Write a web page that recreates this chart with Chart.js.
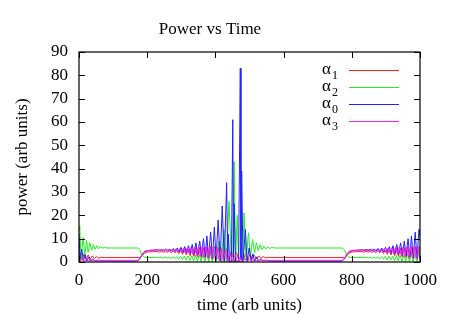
<!DOCTYPE html>
<html><head><meta charset="utf-8">
<script src="https://cdn.jsdelivr.net/npm/chart.js@4/dist/chart.umd.min.js"></script>
<style>html,body{margin:0;padding:0;background:#fff}canvas{display:block}</style>
</head><body>
<canvas id="c" width="450" height="315"></canvas>
<script>
const chartTitle = 'Power vs Time';
const xTitle = 'time (arb units)';
const yTitle = 'power (arb units)';
const xTicks = [0, 200, 400, 600, 800, 1000];
const yTicks = [0, 10, 20, 30, 40, 50, 60, 70, 80, 90];
const seriesLabels = ['α1', 'α2', 'α0', 'α3'];

// [time, power]
const alpha1 = [[0,1],[4,4],[9,0.8],[15,3.6],[21,1],[27,3],[33,1.3],[39,2.6],[45,1.5],[51,2.3],[57,1.7],[65,2],[75,1.9],
[178,1.9],[185,2.6],[192,3.8],[200,4.3],[215,4.4],
[230,4.5],[236,4.2],[242,4.6],[248,4.2],[254,4.6],[259,4.1],
[265,4.7],[271,4],[276,4.8],[282,3.9],[287,5],[293,3.6],[298,5.2],[304,3.3],[309,5.4],[315,3],
[320,5.6],[326,2.7],[331,5.8],[337,2.4],[342,6],[348,2.1],[353,6.2],[359,1.8],[364,6.4],[370,1.5],
[375,6.5],[381,1.2],[386,6.6],[392,0.9],[397,6.6],[403,0.6],[408,6.5],[414,0.4],[420,6.2],[426,0.2],
[433,5.8],[440,0.1],[447,5],[455,0],[462,4],[470,0],
[476,2.5],[482,0.2],[488,3.8],[495,0.8],[502,3.5],[508,1.2],[514,3],[520,1.4],[527,2.6],[533,1.6],[540,2.3],[547,1.7],[555,2],[565,1.9],
[778,1.9],[785,2.6],[792,3.8],[800,4.3],[815,4.4],
[830,4.5],[836,4.2],[842,4.6],[848,4.2],[854,4.6],[859,4.1],
[865,4.7],[871,4],[876,4.8],[882,3.9],[887,5],[893,3.6],[898,5.2],[904,3.3],[909,5.4],[915,3],
[920,5.6],[926,2.7],[931,5.8],[937,2.4],[942,6],[948,2.1],[953,6.2],[959,1.8],[964,6.4],[970,1.5],
[975,6.5],[981,1.2],[986,6.6],[992,0.9],[997,6.6],[1000,3]];

const alpha2 = [[0,14],[2,15.5],[6,1],[12,10.5],[17,3],[22,9.2],[27,4.2],[32,8.2],[37,5],[42,7.5],[47,5.4],[52,7],[57,5.7],[62,6.6],[68,6],[75,6.2],[82,6],
[172,6],[178,5.2],[184,3.2],[190,2.2],[197,1.9],
[230,2],[236,1.8],[242,2.1],[248,1.7],[254,2.1],[260,1.6],[265,2.1],[270,1.5],[276,2.2],[281,1.4],[287,2.3],[292,1.2],[298,2.4],[303,1],[309,2.5],[314,0.8],[320,2.6],[325,0.6],[331,2.7],[336,0.5],[342,2.9],[347,0.3],[353,3.1],[358,0.2],[364,3.4],[369,0.1],[375,3.8],[380,0],[386,4.6],[391,0],[397,6],[403,0],[410,9],[417,0],[425,14],[432,0],[440,26],[447,0],[451,0],[455,43],[459,0.2],[464,20],[468,0.1],
[480,0.3],[484,21],[490,0.5],[497,12.5],[503,2.5],[509,9.6],[515,3.8],[520,8.3],[526,4.8],[531,7.4],[537,5.3],[542,6.9],[548,5.6],[553,6.5],[559,5.8],[565,6.2],[575,6],
[772,6],[778,5.2],[784,3.2],[790,2.2],[797,1.9],
[830,2],[836,1.8],[842,2.1],[848,1.7],[854,2.1],[860,1.6],[865,2.1],[870,1.5],[876,2.2],[881,1.4],[887,2.3],[892,1.2],[898,2.4],[903,1],[909,2.5],[914,0.8],[920,2.6],[925,0.6],[931,2.7],[936,0.5],[942,2.9],[947,0.3],[953,3.1],[958,0.2],[964,3.4],[969,0.1],[975,3.8],[980,0],[986,4.6],[991,0],[997,6],[1000,2]];

const alpha0 = [[0,12],[3,1],[8,5.5],[13,0.5],[18,3.2],[23,0.4],[28,2],[34,0.4],[40,1.2],[48,0.4],[60,0.5],
[170,0.4],[178,1.2],[185,3.2],[192,4.4],[200,4.8],[210,5],[220,5.1],
[230,5.3],[236,4.9],[242,5.4],[248,4.8],[254,5.5],[260,4.7],[266,5.6],[271,4.6],[277,5.8],[282,4.5],[288,6],[293,4.3],[299,6.3],[304,4.1],[310,6.6],[315,3.9],[321,7],[326,3.6],[332,7.5],[337,3.3],[343,8.2],[348,3],[354,9],[359,2.6],[365,10],[370,2.2],[375,11.2],[380,1.8],[386,12.8],[391,1.4],[397,15],[402,1],[408,18],[414,0.6],[420,24],[426,0.3],[433,34],[436,0.5],[438,12],[442,0.1],[447,0.1],[451,61],[453,1],[455,25],[459,0.1],[468,0.2],[473,83],[475,1],[477,39],[481,0.1],[488,14],[493,0.3],[499,6],[505,0.4],[510,3.5],[515,0.4],[521,2.2],[527,0.4],[533,1.3],[540,0.4],[550,0.7],[560,0.4],
[770,0.4],[778,1.2],[785,3.2],[792,4.4],[800,4.8],[810,5],[820,5.1],
[830,5.3],[836,4.9],[842,5.4],[848,4.8],[854,5.5],[860,4.7],[866,5.6],[871,4.6],[877,5.8],[882,4.5],[888,6],[893,4.3],[899,6.3],[904,4.1],[910,6.6],[915,3.9],[921,7],[926,3.6],[932,7.5],[937,3.3],[943,8.2],[948,3],[954,9],[959,2.6],[965,10],[970,2.2],[975,11.2],[980,1.8],[986,12.8],[991,1.4],[997,14],[1000,11]];

const alpha3 = [[0,2.5],[4,0.3],[10,1.6],[16,0.4],[22,1.2],[28,0.5],[34,1],[42,0.6],[55,0.8],[70,0.7],
[172,0.7],[180,1.8],[187,3.8],[195,4.8],[205,5],[230,5.1],
[236,5.3],[242,4.8],[248,5.4],[254,4.8],[260,5.5],[268,4.7],[273,5.5],[279,4.5],[284,5.6],[290,4.3],[295,5.7],[301,4.1],[306,5.9],[312,3.8],[317,6.1],[323,3.5],[328,6.2],[334,3.2],[339,6.3],[345,2.8],[350,6.4],[356,2.4],[361,6.5],[367,2],[372,6.5],[378,1.6],[383,6.4],[389,1.2],[394,6.3],[400,0.9],[405,6],[411,0.6],[417,5.6],[423,0.4],[429,5],[436,0.2],[443,4.2],[450,0.1],[458,3.2],[465,0],[472,2],[479,0],[486,1.4],[493,0.2],[500,1.1],[507,0.3],[514,0.9],[522,0.5],[535,0.8],[550,0.7],
[772,0.7],[780,1.8],[787,3.8],[795,4.8],[805,5],[830,5.1],
[836,5.3],[842,4.8],[848,5.4],[854,4.8],[860,5.5],[868,4.7],[873,5.5],[879,4.5],[884,5.6],[890,4.3],[895,5.7],[901,4.1],[906,5.9],[912,3.8],[917,6.1],[923,3.5],[928,6.2],[934,3.2],[939,6.3],[945,2.8],[950,6.4],[956,2.4],[961,6.5],[967,2],[972,6.5],[978,1.6],[983,6.4],[989,1.2],[994,6.3],[1000,0.9]];

const FONT = 'Liberation Serif';
const toPts = arr => arr.map(p => ({x: p[0], y: p[1]}));
const series = [alpha1, alpha2, alpha0, alpha3];
const colors = ['#ff2020', '#20f020', '#2020ff', '#ff20ff'];
const drawOrder = [3, 2, 1, 0];

const decorations = {
  id: 'decorations',
  afterDatasetsDraw(chart) {
    const {ctx, chartArea: {left, right, top, bottom}, scales: {x, y}} = chart;
    ctx.save();
    ctx.strokeStyle = '#000';
    ctx.lineWidth = 1;
    ctx.beginPath();
    xTicks.forEach(v => {
      const px = Math.round(x.getPixelForValue(v)) + 0.5;
      ctx.moveTo(px, bottom); ctx.lineTo(px, bottom - 6);
      ctx.moveTo(px, top); ctx.lineTo(px, top + 6);
    });
    yTicks.forEach(v => {
      const py = Math.round(y.getPixelForValue(v)) + 0.5;
      ctx.moveTo(left, py); ctx.lineTo(left + 6, py);
      ctx.moveTo(right, py); ctx.lineTo(right - 6, py);
    });
    ctx.stroke();
    ctx.lineWidth = 1.2;
    ctx.strokeRect(left, top, right - left, bottom - top);
    // key
    chart.data.datasets.forEach((ds, i) => {
      const rowY = top + 17.5 + i * 17.3;
      ctx.fillStyle = '#000';
      ctx.textBaseline = 'alphabetic';
      ctx.textAlign = 'left';
      ctx.font = '17px "' + FONT + '"';
      const base = ds.label.charAt(0), sub = ds.label.slice(1);
      ctx.fillText(base, right - 98, rowY + 4);
      const w = ctx.measureText(base).width;
      ctx.font = '12px "' + FONT + '"';
      ctx.fillText(sub, right - 98 + w + 1, rowY + 9);
      ctx.strokeStyle = ds.borderColor;
      ctx.lineWidth = 1;
      ctx.beginPath();
      ctx.moveTo(right - 71, Math.round(rowY) + 0.5);
      ctx.lineTo(right - 21, Math.round(rowY) + 0.5);
      ctx.stroke();
    });
    ctx.restore();
  }
};

new Chart(document.getElementById('c'), {
  type: 'line',
  data: {
    datasets: series.map((s, i) => ({
      label: seriesLabels[i],
      data: toPts(s),
      borderColor: colors[i],
      backgroundColor: colors[i],
      borderWidth: 1,
      pointRadius: 0,
      tension: 0,
      fill: false,
      order: drawOrder[i]
    }))
  },
  options: {
    responsive: false,
    animation: false,
    devicePixelRatio: 1,
    layout: {padding: {left: 0, right: 30, top: 0, bottom: 0}},
    plugins: {
      legend: {display: false},
      tooltip: {enabled: false},
      title: {
        display: true, text: chartTitle, color: '#000',
        font: {family: FONT, size: 17, weight: 'normal', lineHeight: 1},
        padding: {top: 21, bottom: 14}
      }
    },
    scales: {
      x: {
        type: 'linear', min: 0, max: 1000,
        afterBuildTicks: s => { s.ticks = xTicks.map(v => ({value: v})); },
        afterFit: s => { s.height = 53; },
        grid: {display: false, drawTicks: false},
        border: {display: false},
        ticks: {color: '#000', padding: 8, maxRotation: 0, autoSkip: false, callback: v => String(v), font: {family: FONT, size: 17}},
        title: {display: true, text: xTitle, color: '#000', font: {family: FONT, size: 17, lineHeight: 1}, padding: {top: 0, bottom: 0.5}}
      },
      y: {
        type: 'linear', min: 0, max: 90,
        afterBuildTicks: s => { s.ticks = yTicks.map(v => ({value: v})); },
        afterFit: s => { s.width = 79; },
        grid: {display: false, drawTicks: false},
        border: {display: false},
        ticks: {color: '#000', padding: 11, autoSkip: false, callback: v => String(v), font: {family: FONT, size: 17}},
        title: {display: true, text: yTitle, color: '#000', font: {family: FONT, size: 17, lineHeight: 1}, padding: {top: 14, bottom: 0}}
      }
    }
  },
  plugins: [decorations]
});
</script>
</body></html>
